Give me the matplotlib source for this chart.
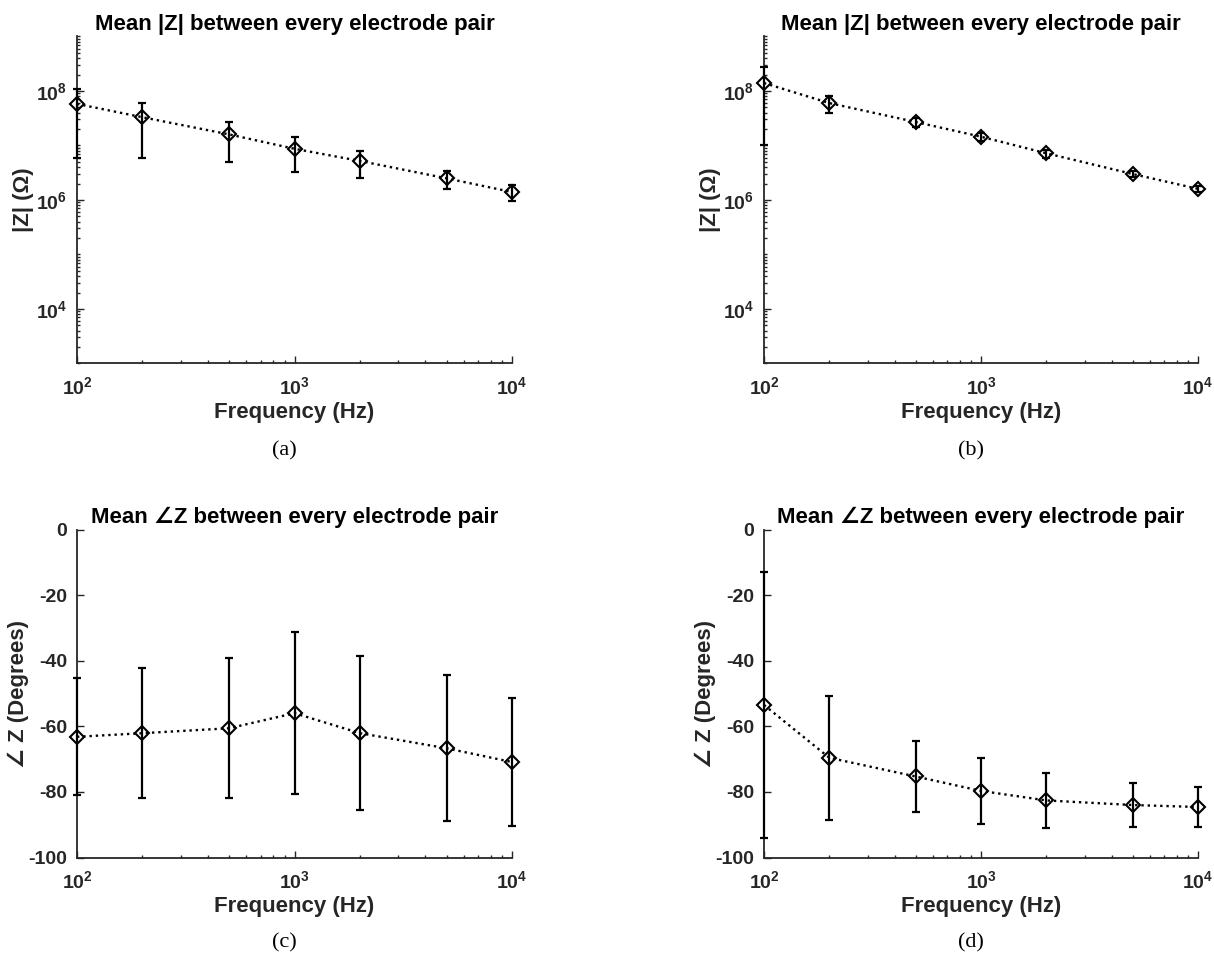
import numpy as np
import matplotlib
matplotlib.use('Agg')
from matplotlib import pyplot as plt
from matplotlib import ticker
from matplotlib import rcParams

rcParams['font.family'] = ['Liberation Sans', 'DejaVu Sans']
rcParams['font.weight'] = 'bold'
rcParams['axes.unicode_minus'] = False

freq = [100, 200, 500, 1000, 2000, 5000, 10000]

# |Z| means and std (Ohm)
mag_a = [5.8e7, 3.3e7, 1.6e7, 8.7e6, 5.2e6, 2.5e6, 1.4e6]
mag_a_err = [5.2e7, 2.7e7, 1.1e7, 5.4e6, 2.7e6, 0.9e6, 0.45e6]
mag_b = [1.4e8, 6.0e7, 2.7e7, 1.45e7, 7.2e6, 3.0e6, 1.6e6]
mag_b_err = [1.3e8, 2.0e7, 0.5e7, 0.25e7, 1.2e6, 0.4e6, 0.2e6]

# phase means and std (degrees)
phase_a = [-63.2, -62.1, -60.6, -56.0, -62.1, -66.7, -70.9]
phase_a_err = [17.8, 19.8, 21.3, 24.6, 23.4, 22.3, 19.4]
phase_b = [-53.5, -69.6, -75.3, -79.7, -82.6, -84.0, -84.6]
phase_b_err = [40.5, 18.9, 10.8, 10.0, 8.3, 6.6, 6.2]

captions = ['(a)', '(b)', '(c)', '(d)']

W, H = 1214, 955
fig = plt.figure(figsize=(W / 100, H / 100), dpi=100)
fig.patch.set_facecolor('white')

gray = '#262626'


def make_ax(x0, x1, ytop, ybot):
    return fig.add_axes([x0 / W, 1 - ybot / H, (x1 - x0) / W, (ybot - ytop) / H])


def style(ax):
    for s in ['top', 'right']:
        ax.spines[s].set_visible(False)
    for s in ['left', 'bottom']:
        ax.spines[s].set_color(gray)
        ax.spines[s].set_linewidth(1.3)
    ax.tick_params(which='both', direction='in', colors=gray, labelsize=14, width=1.0)
    ax.tick_params(which='major', length=5)
    ax.tick_params(which='minor', length=2.5)
    ax.tick_params(axis='x', pad=9)
    ax.tick_params(axis='y', pad=7)
    ax.set_xscale('log')
    ax.set_xlim(100, 10000)
    ax.xaxis.set_major_locator(ticker.FixedLocator([1e2, 1e3, 1e4]))
    ax.xaxis.set_major_formatter(ticker.LogFormatterMathtext())
    ax.xaxis.set_minor_locator(ticker.LogLocator(base=10, subs=np.arange(2, 10)))
    ax.xaxis.set_minor_formatter(ticker.NullFormatter())
    ax.set_xlabel('Frequency (Hz)', fontsize=16, fontweight='bold', color=gray)
    ax.xaxis.set_label_coords(0.5, -0.118)


def draw(ax, y, err):
    ax.errorbar(freq, y, yerr=err, fmt='none', ecolor='black', elinewidth=1.6,
                capsize=3.2, capthick=1.6, clip_on=False, zorder=3)
    ax.plot(freq, y, color='black', linestyle=':', linewidth=1.7, marker='D',
            markersize=7, markerfacecolor='none', markeredgecolor='black',
            markeredgewidth=1.5, clip_on=False, zorder=4)


lefts = [77, 764]
rights = [512, 1198]

# top row: magnitude
for i, (y, err) in enumerate([(mag_a, mag_a_err), (mag_b, mag_b_err)]):
    ax = make_ax(lefts[i], rights[i], 36.5, 363.5)
    style(ax)
    ax.set_yscale('log')
    ax.set_ylim(1e3, 1e9)
    ax.yaxis.set_major_locator(ticker.FixedLocator([1e4, 1e6, 1e8]))
    ax.yaxis.set_major_formatter(ticker.LogFormatterMathtext())
    ax.yaxis.set_minor_locator(ticker.LogLocator(base=10, subs=np.arange(1, 10), numticks=20))
    ax.yaxis.set_minor_formatter(ticker.NullFormatter())
    ax.set_ylabel('|Z| (\u03a9)', fontsize=16, fontweight='bold', color=gray)
    ax.yaxis.set_label_coords(-0.098, 0.5)
    ax.set_title('Mean |Z| between every electrode pair', fontsize=16,
                 fontweight='bold', color='black', pad=5)
    draw(ax, y, err)
    fig.text((lefts[i] + 207) / W, 1 - 451 / H, captions[i], family='Liberation Serif',
             fontweight='normal', fontsize=16, ha='center', va='center')

# bottom row: phase
for i, (y, err) in enumerate([(phase_a, phase_a_err), (phase_b, phase_b_err)]):
    ax = make_ax(lefts[i], rights[i], 529.5, 857.5)
    style(ax)
    ax.set_ylim(-100, 0)
    ax.set_yticks([0, -20, -40, -60, -80, -100])
    ax.set_yticklabels(['0', '-20', '-40', '-60', '-80', '-100'])
    ax.set_ylabel('\u2220 Z (Degrees)', fontsize=16, fontweight='bold', color=gray)
    ax.yaxis.set_label_coords(-0.11, 0.5)
    ax.set_title('Mean \u2220Z between every electrode pair', fontsize=16,
                 fontweight='bold', color='black', pad=5)
    draw(ax, y, err)
    fig.text((lefts[i] + 207) / W, 1 - 943 / H, captions[i + 2], family='Liberation Serif',
             fontweight='normal', fontsize=16, ha='center', va='center')

fig.savefig('out.png', dpi=100, facecolor='white')
